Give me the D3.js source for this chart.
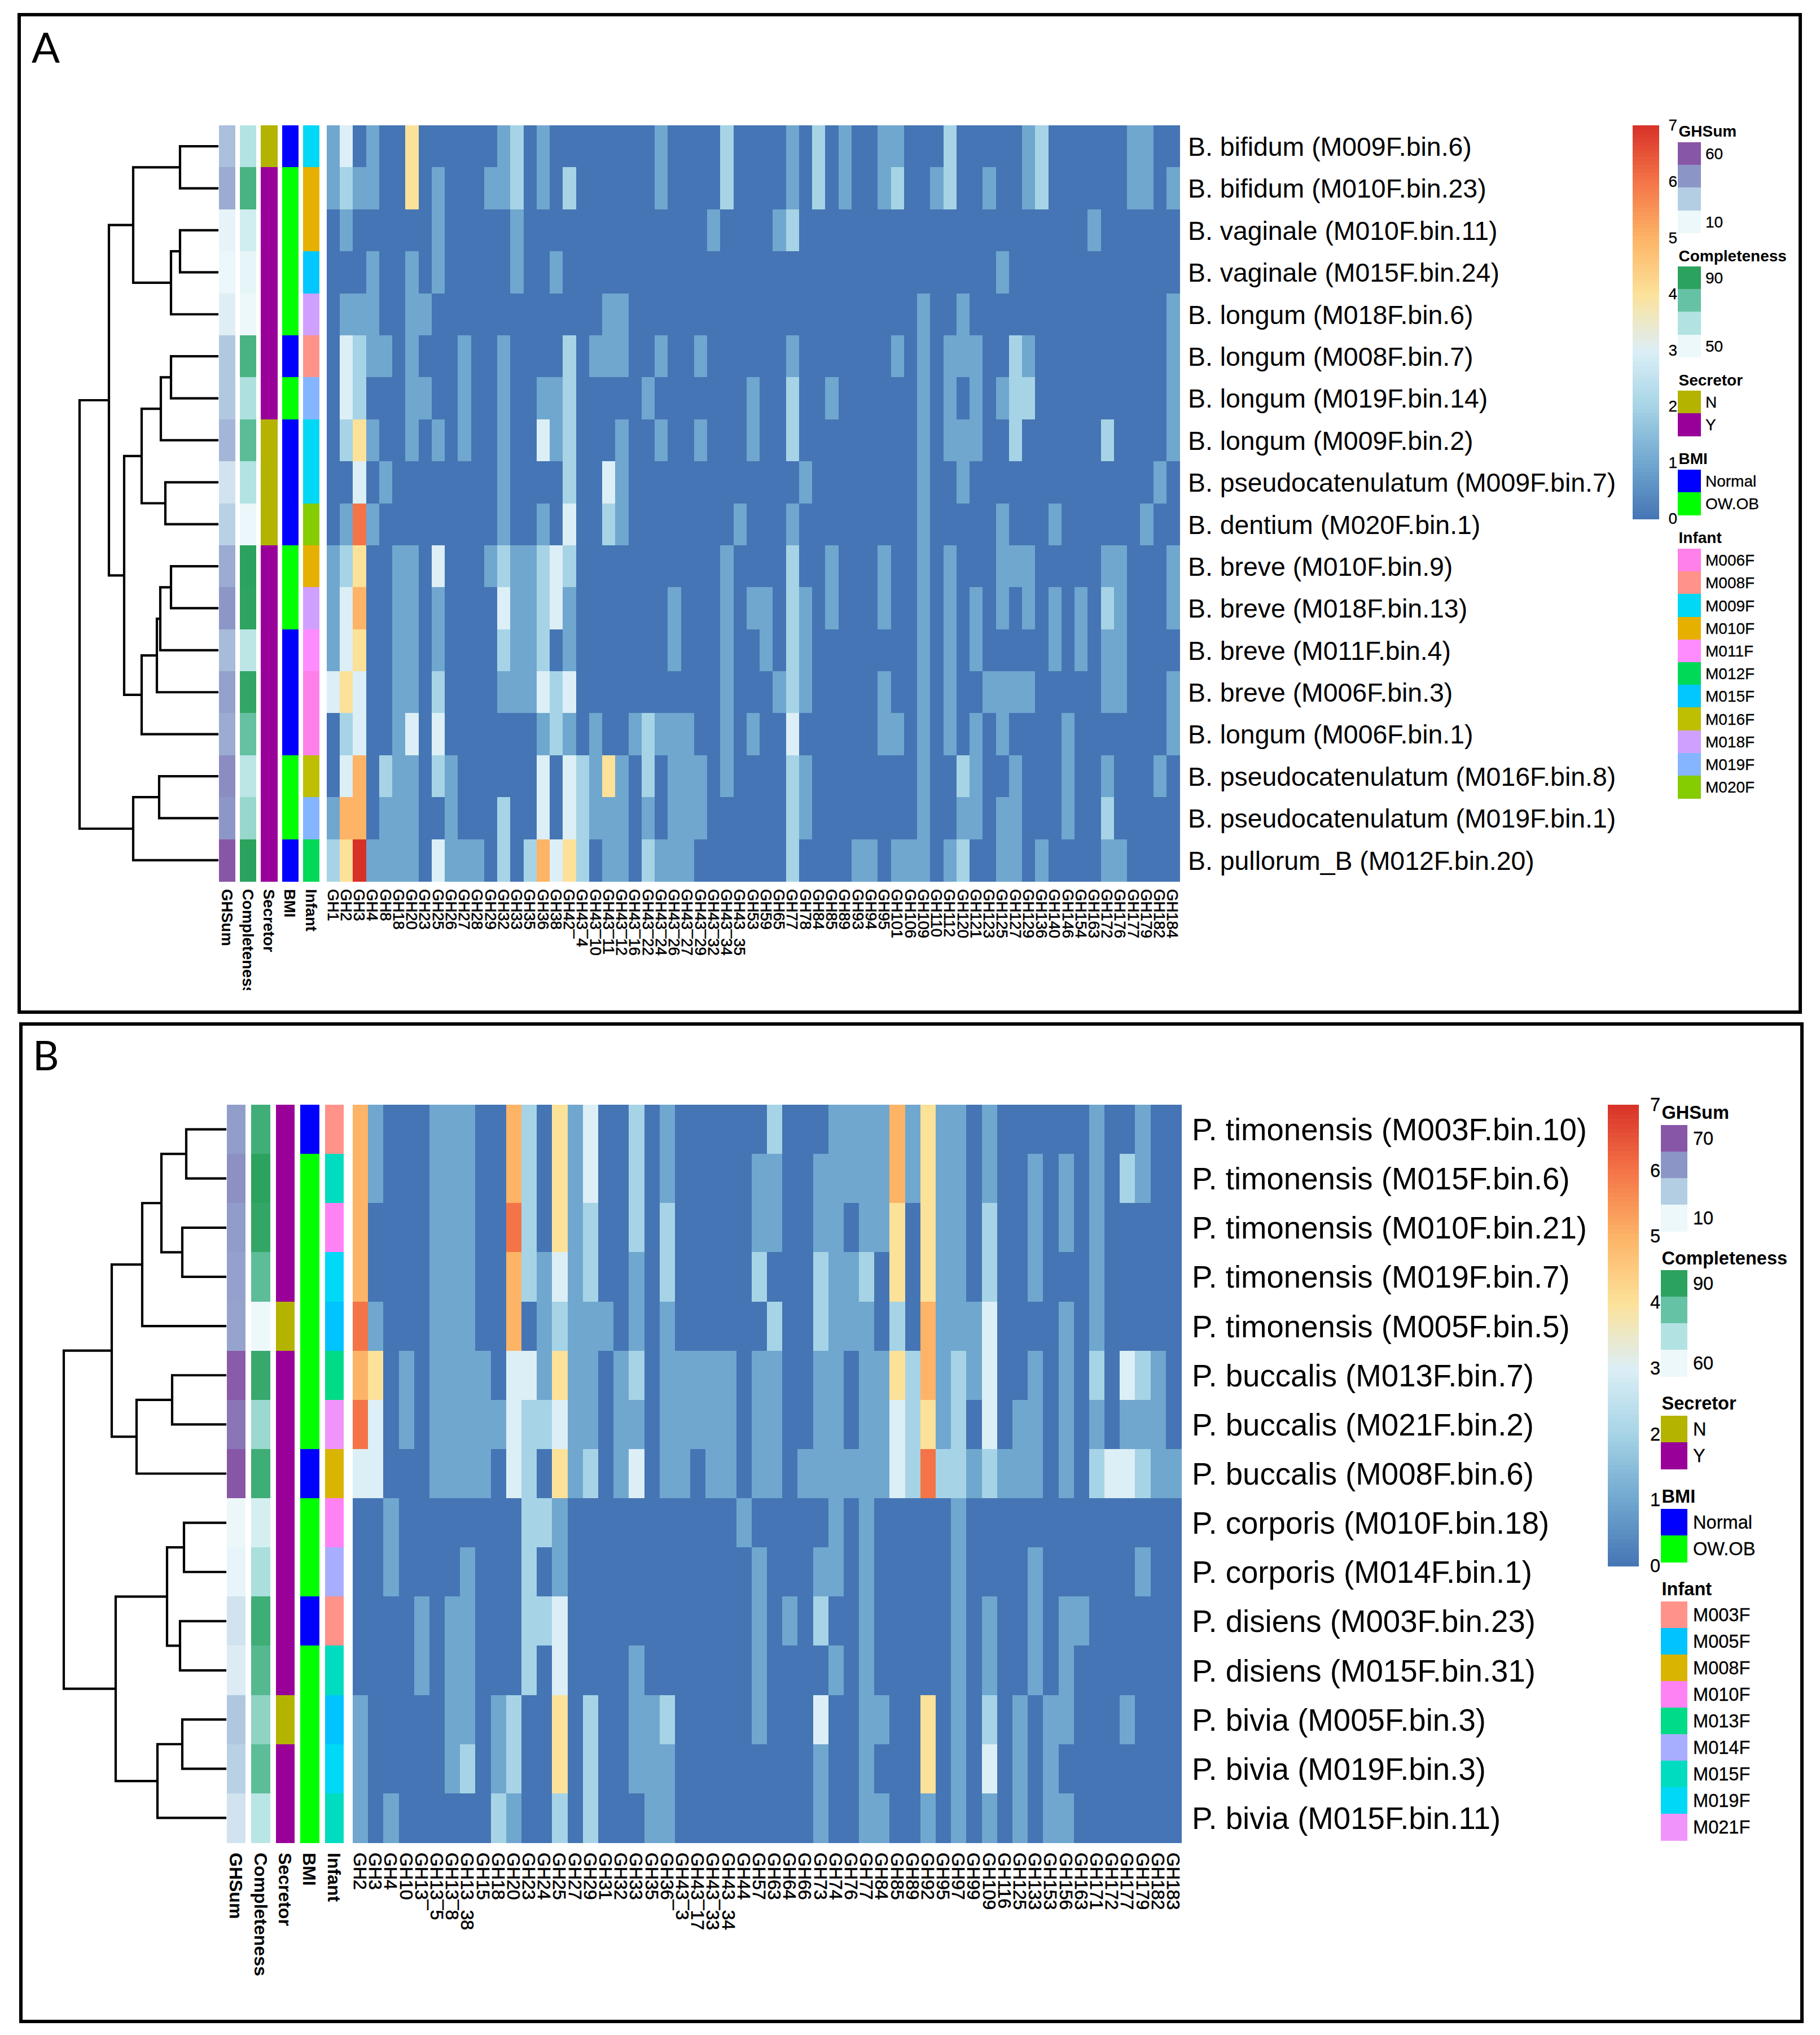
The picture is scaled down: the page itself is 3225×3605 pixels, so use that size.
<!DOCTYPE html>
<html>
<head>
<meta charset="utf-8">
<script src="https://cdn.jsdelivr.net/npm/d3@7"></script>
<style>
html,body{margin:0;padding:0;background:#fff}
svg{display:block}
text{font-family:"Liberation Sans",Arial,sans-serif;fill:#000}
</style>
</head>
<body>
<svg id="chart" width="3225" height="3605"></svg>
<script>
// ---------- Panel A data ----------
const rowsA = ["B. bifidum (M009F.bin.6)","B. bifidum (M010F.bin.23)","B. vaginale (M010F.bin.11)","B. vaginale (M015F.bin.24)","B. longum (M018F.bin.6)","B. longum (M008F.bin.7)","B. longum (M019F.bin.14)","B. longum (M009F.bin.2)","B. pseudocatenulatum (M009F.bin.7)","B. dentium (M020F.bin.1)","B. breve (M010F.bin.9)","B. breve (M018F.bin.13)","B. breve (M011F.bin.4)","B. breve (M006F.bin.3)","B. longum (M006F.bin.1)","B. pseudocatenulatum (M016F.bin.8)","B. pseudocatenulatum (M019F.bin.1)","B. pullorum_B (M012F.bin.20)"];
const colsA = ["GH1","GH2","GH3","GH4","GH8","GH18","GH20","GH23","GH25","GH26","GH27","GH28","GH29","GH32","GH33","GH35","GH36","GH38","GH42","GH43_4","GH43_10","GH43_11","GH43_12","GH43_16","GH43_22","GH43_24","GH43_26","GH43_27","GH43_29","GH43_32","GH43_34","GH43_35","GH53","GH59","GH65","GH77","GH78","GH84","GH85","GH89","GH93","GH94","GH95","GH101","GH106","GH109","GH110","GH112","GH120","GH121","GH123","GH125","GH127","GH129","GH136","GH140","GH146","GH154","GH163","GH172","GH176","GH177","GH179","GH182","GH184"];
// non-zero cells only: [column index, value]
const heatA = [
[[0,1],[1,3],[3,1],[6,4],[13,1],[14,2],[16,1],[25,1],[30,2],[35,1],[37,2],[39,1],[42,1],[43,1],[47,2],[53,1],[54,2],[61,1],[62,1]],
[[0,1],[1,2],[2,1],[3,1],[6,4],[8,1],[12,1],[13,1],[14,2],[16,1],[18,2],[25,1],[30,2],[35,1],[37,2],[39,1],[42,1],[43,2],[46,1],[47,2],[50,1],[53,1],[54,2],[61,1],[62,1],[64,1]],
[[1,1],[8,1],[14,1],[29,1],[34,1],[35,2],[58,1]],
[[3,1],[6,1],[8,1],[14,1],[17,1],[51,1]],
[[1,1],[2,1],[3,1],[6,1],[7,1],[21,1],[22,1],[45,1],[48,1],[64,1]],
[[1,3],[2,2],[3,1],[4,1],[6,1],[10,1],[13,1],[18,2],[20,1],[21,1],[22,1],[25,1],[28,1],[35,1],[43,1],[45,1],[47,1],[48,1],[49,1],[52,2],[53,1],[64,1]],
[[1,3],[2,2],[6,1],[7,1],[10,1],[13,1],[16,1],[17,1],[18,2],[24,1],[32,1],[35,2],[38,1],[45,1],[47,1],[49,1],[51,1],[52,2],[53,2],[64,1]],
[[1,2],[2,4],[3,1],[6,1],[8,1],[10,1],[13,1],[16,3],[17,1],[18,2],[22,1],[25,1],[28,1],[32,1],[35,2],[45,1],[47,1],[48,1],[49,1],[52,2],[59,2],[64,1]],
[[2,3],[4,1],[13,1],[18,2],[21,3],[22,1],[36,1],[45,1],[48,1],[63,1]],
[[1,1],[2,6],[3,1],[13,1],[16,1],[18,3],[21,2],[22,1],[31,1],[35,1],[45,1],[51,1],[55,1],[62,1]],
[[0,1],[1,2],[2,4],[5,1],[6,1],[8,3],[12,1],[13,2],[14,1],[15,1],[16,2],[17,3],[18,2],[30,1],[35,2],[38,1],[42,1],[45,1],[47,1],[51,1],[52,1],[53,1],[59,1],[60,1],[64,1]],
[[0,1],[1,3],[2,5],[5,1],[6,1],[8,1],[13,3],[14,1],[15,1],[16,2],[17,3],[18,1],[26,1],[30,1],[32,1],[33,1],[35,2],[36,1],[38,1],[42,1],[45,1],[47,1],[49,1],[51,1],[53,1],[55,1],[57,1],[59,2],[60,1],[64,1]],
[[0,1],[1,3],[2,4],[5,1],[6,1],[8,1],[13,2],[14,1],[15,1],[16,2],[18,1],[26,1],[30,1],[33,1],[35,2],[36,1],[45,1],[47,1],[49,1],[55,1],[57,1],[59,1],[60,1]],
[[0,3],[1,4],[2,3],[5,1],[6,1],[8,2],[13,1],[14,1],[15,1],[16,3],[17,2],[18,3],[30,1],[34,1],[35,2],[36,1],[42,1],[45,1],[47,1],[50,1],[51,1],[52,1],[53,1],[59,1],[60,1],[64,1]],
[[1,2],[2,3],[5,1],[6,3],[8,3],[16,1],[17,2],[18,1],[20,1],[23,1],[24,2],[25,1],[26,1],[27,1],[30,1],[32,1],[35,3],[42,1],[43,1],[45,1],[47,1],[49,1],[51,1],[56,1],[64,1]],
[[1,3],[2,5],[4,2],[5,1],[6,1],[8,2],[9,1],[16,3],[18,3],[19,2],[20,1],[21,4],[22,1],[24,2],[26,1],[27,1],[28,1],[30,1],[35,2],[36,1],[45,1],[48,2],[49,1],[52,1],[56,1],[59,1],[63,1]],
[[0,1],[1,5],[2,5],[4,1],[5,1],[6,1],[9,1],[13,2],[16,3],[18,3],[19,2],[20,1],[21,1],[22,1],[24,1],[26,1],[27,1],[28,1],[35,2],[36,1],[45,1],[48,1],[49,1],[51,1],[52,1],[56,1],[59,2]],
[[0,2],[1,4],[2,7],[3,1],[4,1],[5,1],[6,1],[8,3],[9,1],[10,1],[11,1],[13,2],[15,2],[16,5],[17,3],[18,4],[19,2],[21,1],[22,1],[24,2],[25,1],[26,1],[27,1],[35,2],[40,1],[41,1],[43,1],[44,1],[45,1],[47,1],[48,2],[51,1],[52,1],[54,1],[59,1],[60,1]]
];
const ghSumA = [30.5,37,12,10.5,14,28,28,33.5,18,25,37,43,32,40,37,46,43,60];
const completenessA = [63,83,56.5,51.6,50,83,64,79,63,50.5,90,89.5,61,88.4,77,61,68,90];
const secretorA = ["N","Y","Y","Y","Y","Y","Y","N","N","N","Y","Y","Y","Y","Y","Y","Y","Y"];
const bmiA = ["Normal","OW.OB","OW.OB","OW.OB","OW.OB","Normal","OW.OB","Normal","Normal","Normal","OW.OB","OW.OB","Normal","Normal","Normal","OW.OB","OW.OB","Normal"];
const infantA = ["M009F","M010F","M010F","M015F","M018F","M008F","M019F","M009F","M009F","M020F","M010F","M018F","M011F","M006F","M006F","M016F","M019F","M012F"];
// hclust-style merges: negative = leaf (row), positive = earlier merge; third entry = height
const mergeA = [[-1,-2,66],[-3,-4,66],[2,-5,82],[1,3,149],[-6,-7,82],[5,-8,100],[-9,-10,92],[6,7,134],[-11,-12,82],[9,-13,101],[10,-14,107],[11,-15,134],[8,12,165],[4,13,192],[-16,-17,103],[15,-18,149],[14,16,244]];
const infantLevelsA = ["M006F","M008F","M009F","M010F","M011F","M012F","M015F","M016F","M018F","M019F","M020F"];

// ---------- Panel B data ----------
const rowsB = ["P. timonensis (M003F.bin.10)","P. timonensis (M015F.bin.6)","P. timonensis (M010F.bin.21)","P. timonensis (M019F.bin.7)","P. timonensis (M005F.bin.5)","P. buccalis (M013F.bin.7)","P. buccalis (M021F.bin.2)","P. buccalis (M008F.bin.6)","P. corporis (M010F.bin.18)","P. corporis (M014F.bin.1)","P. disiens (M003F.bin.23)","P. disiens (M015F.bin.31)","P. bivia (M005F.bin.3)","P. bivia (M019F.bin.3)","P. bivia (M015F.bin.11)"];
const colsB = ["GH2","GH3","GH4","GH10","GH13","GH13_5","GH13_8","GH13_38","GH15","GH18","GH20","GH23","GH24","GH25","GH27","GH29","GH31","GH32","GH33","GH35","GH36","GH43_3","GH43_17","GH43_33","GH43_34","GH44","GH57","GH63","GH64","GH66","GH73","GH74","GH76","GH77","GH84","GH85","GH89","GH92","GH95","GH97","GH99","GH109","GH116","GH125","GH133","GH153","GH156","GH163","GH171","GH172","GH177","GH179","GH182","GH183"];
const heatB = [
[[0,5],[1,1],[5,1],[6,1],[7,1],[10,5],[11,2],[13,4],[14,1],[15,3],[18,2],[20,1],[27,2],[31,1],[32,1],[33,1],[34,1],[35,5],[36,1],[37,4],[38,1],[39,1],[41,1],[48,1],[51,1]],
[[0,5],[1,1],[5,1],[6,1],[7,1],[10,5],[11,2],[13,4],[14,1],[15,3],[18,2],[20,1],[26,1],[27,1],[30,1],[31,1],[32,1],[33,1],[34,1],[35,5],[36,1],[37,4],[38,1],[39,1],[41,1],[44,1],[46,1],[48,1],[50,2],[51,1]],
[[0,5],[5,1],[6,1],[7,1],[10,6],[11,2],[13,4],[14,1],[15,2],[18,2],[20,2],[26,1],[27,1],[30,1],[31,1],[33,1],[34,1],[35,4],[37,4],[38,1],[39,1],[41,2],[44,1],[46,1],[48,1]],
[[0,5],[5,1],[6,1],[7,1],[10,5],[11,2],[12,1],[13,3],[14,1],[15,2],[18,1],[20,2],[26,2],[30,2],[31,1],[32,1],[33,2],[35,4],[37,4],[38,1],[39,1],[41,2],[44,1],[48,1]],
[[0,6],[1,1],[5,1],[6,1],[7,1],[10,5],[12,1],[13,2],[14,1],[15,1],[16,1],[18,1],[20,1],[27,2],[30,2],[31,1],[32,1],[33,1],[35,2],[37,5],[38,1],[39,1],[40,1],[41,3],[46,1],[48,1]],
[[0,5],[1,4],[3,1],[5,1],[6,1],[7,1],[8,1],[10,3],[11,3],[12,1],[13,4],[14,1],[15,1],[17,1],[18,2],[20,1],[21,1],[22,1],[23,1],[24,1],[26,1],[27,1],[30,1],[31,1],[33,1],[34,1],[35,4],[36,2],[37,5],[38,1],[39,2],[40,1],[41,3],[44,1],[46,1],[48,2],[50,3],[51,2],[52,1]],
[[0,6],[1,3],[3,1],[5,1],[6,1],[7,1],[8,1],[9,1],[10,3],[11,2],[12,2],[13,3],[14,1],[15,1],[17,1],[18,1],[20,1],[21,1],[22,1],[23,1],[24,1],[26,1],[27,1],[30,1],[31,1],[33,1],[34,1],[35,3],[36,2],[37,4],[38,1],[39,2],[41,3],[43,1],[44,1],[46,1],[48,1],[50,1],[51,1],[52,1]],
[[0,3],[1,3],[5,1],[6,1],[7,1],[8,1],[10,3],[11,2],[13,4],[14,1],[15,2],[17,1],[18,3],[20,1],[21,1],[23,1],[24,1],[26,1],[27,1],[29,1],[30,1],[31,1],[32,1],[33,1],[34,1],[35,3],[36,2],[37,6],[38,2],[39,2],[40,1],[41,2],[42,1],[43,1],[44,1],[46,1],[48,2],[49,3],[50,3],[51,2],[52,1],[53,1]],
[[2,1],[11,2],[12,2],[13,1],[25,1],[31,1],[33,1],[39,1]],
[[2,1],[7,1],[11,2],[13,1],[26,1],[30,1],[31,1],[33,1],[39,1],[44,1],[51,1]],
[[4,1],[6,1],[7,1],[11,2],[12,2],[13,3],[26,1],[28,1],[30,2],[33,1],[39,1],[41,1],[44,1],[46,1],[47,1]],
[[4,1],[6,1],[7,1],[11,2],[13,3],[18,1],[26,1],[31,1],[33,1],[39,1],[41,1],[44,1],[46,1]],
[[0,1],[6,1],[7,1],[9,1],[10,2],[13,4],[15,2],[18,1],[19,1],[20,2],[26,1],[30,3],[33,1],[34,1],[37,4],[39,1],[41,2],[43,1],[45,1],[46,1],[50,1]],
[[0,1],[6,1],[7,2],[9,1],[10,2],[13,4],[15,2],[18,1],[19,1],[20,1],[30,1],[33,1],[37,4],[39,1],[41,3],[43,1],[45,1]],
[[0,1],[2,1],[9,2],[10,1],[13,2],[15,2],[19,1],[20,1],[30,1],[33,1],[34,1],[37,1],[39,1],[41,1],[43,1],[45,1],[46,1]]
];
const ghSumB = [47,52,48,46,45,68,60,70,10.5,12,20,15.5,32,28,20];
const completenessB = [86.4,90,88.8,81.6,60,88,73,86.7,64,71,86.7,83,74.6,81.6,68.7];
const secretorB = ["Y","Y","Y","Y","N","Y","Y","Y","Y","Y","Y","Y","N","Y","Y"];
const bmiB = ["Normal","OW.OB","OW.OB","OW.OB","OW.OB","OW.OB","OW.OB","Normal","OW.OB","OW.OB","Normal","OW.OB","OW.OB","OW.OB","OW.OB"];
const infantB = ["M003F","M015F","M010F","M019F","M005F","M013F","M021F","M008F","M010F","M014F","M003F","M015F","M005F","M019F","M015F"];
const mergeB = [[-1,-2,69],[-3,-4,76],[1,2,113],[3,-5,147],[-6,-7,94],[5,-8,157],[4,6,201],[-9,-10,73],[-11,-12,80],[8,9,103],[-13,-14,76],[11,-15,120],[10,12,194],[7,13,286]];
const infantLevelsB = ["M003F","M005F","M008F","M010F","M013F","M014F","M015F","M019F","M021F"];

// ---------- Shared palette ----------
const heatValues = [0,1,2,3,4,5,6,7];
const heatColors = ["#4575b4","#70a7cf","#a6d4e6","#dceff6","#fce199","#fdb466","#f47447","#d83228"];
const buPu = ["#edf8fb","#b3cde3","#8c96c6","#8856a7"];
const buGn = ["#edf8fb","#b2e2e2","#66c2a4","#2ca25f"];
const secretorLevels = ["N","Y"];
const secretorColors = ["#b3b300","#990099"];
const bmiLevels = ["Normal","OW.OB"];
const bmiColors = ["#0000ff","#00ff00"];
const infantColors = {M003F:"#ff9289",M005F:"#00c3ff",M006F:"#ff80e8",M008F:null,M009F:"#00d8f5",M010F:"#e6b000",M011F:"#ff8cff",M012F:"#00d958",M013F:"#00db88",M014F:"#a8aeff",M015F:"#00c8ff",M016F:"#bdbf00",M018F:"#d0a0ff",M019F:"#85b5ff",M020F:"#85cc00",M021F:"#f094fb"};
const infantOverridesA = {M008F:"#ff9289"};
const infantOverridesB = {M008F:"#d9b400",M010F:"#ff82f5",M015F:"#00dcc0",M019F:"#00d8f7"};

const heatColor = d3.scaleLinear().domain(heatValues).range(heatColors);
const svg = d3.select("#chart");
svg.append("rect").attr("width",3225).attr("height",3605).attr("fill","#fff");

function ramp(lo, hi, colors){
  return d3.scaleLinear().domain(colors.map((c,i)=>lo+(hi-lo)*i/(colors.length-1))).range(colors);
}

function drawPanel(p){
  const g = svg.append("g");
  // frame
  g.append("rect").attr("x",p.box[0]).attr("y",p.box[1]).attr("width",p.box[2]-p.box[0]).attr("height",p.box[3]-p.box[1])
    .attr("fill","none").attr("stroke","#000").attr("stroke-width",6);
  g.append("text").text(p.letter).attr("x",p.letterPos[0]).attr("y",p.letterPos[1])
    .style("font-family","Lato,sans-serif").style("font-size",p.letterSize+"px");

  const x = d3.scaleBand().domain(p.cols).range([p.heat[0],p.heat[1]]);
  const y = d3.scaleBand().domain(p.rows).range([p.heat[2],p.heat[3]]);

  // heat cells
  const matrix = p.heatData.map((pairs,r)=>{
    const m = new Map(pairs);
    return p.cols.map((c,i)=>({row:p.rows[r],col:c,value:m.get(i)||0}));
  }).flat();
  g.append("g").attr("shape-rendering","crispEdges").selectAll("rect").data(matrix).join("rect")
    .attr("x",d=>x(d.col)).attr("y",d=>y(d.row)).attr("width",x.bandwidth()+.5).attr("height",y.bandwidth()+.5)
    .attr("fill",d=>heatColor(d.value));

  // annotation tracks
  const tracks = [
    {name:"GHSum",values:p.ghSum,color:ramp(p.ghRange[0],p.ghRange[1],buPu)},
    {name:"Completeness",values:p.completeness,color:ramp(p.compRange[0],p.compRange[1],buGn)},
    {name:"Secretor",values:p.secretor,color:d3.scaleOrdinal(secretorLevels,secretorColors)},
    {name:"BMI",values:p.bmi,color:d3.scaleOrdinal(bmiLevels,bmiColors)},
    {name:"Infant",values:p.infant,color:v=>p.infantColor(v)}
  ];
  const ax = d3.scaleBand().domain(tracks.map(t=>t.name)).range([p.ann[0],p.ann[1]]).paddingInner(p.annPad);
  tracks.forEach(t=>{
    g.append("g").attr("shape-rendering","crispEdges").selectAll("rect").data(t.values).join("rect")
      .attr("x",ax(t.name)).attr("width",ax.bandwidth())
      .attr("y",(d,i)=>y(p.rows[i])).attr("height",y.bandwidth()+.5)
      .attr("fill",d=>t.color(d));
  });

  // dendrogram
  const hx = d3.scaleLinear().domain([0,d3.max(p.merge,m=>m[2])]).range([p.leafX,p.rootX]);
  const nodes = [];
  const locate = id => id<0 ? {x:hx(0),y:y(p.rows[-id-1])+y.bandwidth()/2} : nodes[id-1];
  const dp = d3.path();
  p.merge.forEach(m=>{
    const a = locate(m[0]), b = locate(m[1]), nx = hx(m[2]);
    dp.moveTo(a.x,a.y); dp.lineTo(nx,a.y); dp.lineTo(nx,b.y); dp.lineTo(b.x,b.y);
    nodes.push({x:nx,y:(a.y+b.y)/2});
  });
  g.append("path").attr("d",dp.toString()).attr("fill","none").attr("stroke","#000")
    .attr("stroke-width",p.dendroW).attr("stroke-linecap","square").attr("stroke-linejoin","miter");

  // column axis
  const colAxis = g.append("g").attr("transform",`translate(0,${p.tickY})`)
    .call(d3.axisBottom(x).tickSize(0).tickPadding(0));
  colAxis.select(".domain").remove();
  colAxis.selectAll("text").attr("x",0).attr("y",0).attr("dy",".36em")
    .attr("text-anchor","start").attr("transform","rotate(90)")
    .style("font-family",'"Liberation Sans",Arial,sans-serif').style("font-size",p.tickSize+"px")
    .attr("stroke","#000").attr("stroke-width",.6);

  // annotation names
  const clipId = "clip"+p.letter;
  svg.append("clipPath").attr("id",clipId).append("rect")
    .attr("x",p.ann[0]-5).attr("y",p.tickY-5).attr("width",p.ann[1]-p.ann[0]+10).attr("height",p.annClip-p.tickY+5);
  const annAxis = g.append("g").attr("clip-path",`url(#${clipId})`).append("g").attr("transform",`translate(0,${p.tickY})`)
    .call(d3.axisBottom(ax).tickSize(0).tickPadding(0));
  annAxis.select(".domain").remove();
  annAxis.selectAll("text").attr("x",0).attr("y",0).attr("dy",".36em")
    .attr("text-anchor","start").attr("transform","rotate(90)")
    .style("font-family",'"Liberation Sans",Arial,sans-serif').style("font-weight","bold").style("font-size",p.tickSize+"px");

  // row axis
  const rowAxis = g.append("g").attr("transform",`translate(${p.labelX},2)`)
    .call(d3.axisRight(y).tickSize(0).tickPadding(0));
  rowAxis.select(".domain").remove();
  rowAxis.selectAll("text").attr("x",0)
    .style("font-family",'"Liberation Sans",Arial,sans-serif').style("font-size",p.labelSize+"px");

  // colour bar
  const cb = p.bar;
  const cy = d3.scaleLinear().domain([0,7]).range([cb.y1,cb.y0]);
  const steps = d3.range(100);
  g.append("g").attr("shape-rendering","crispEdges").selectAll("rect").data(steps).join("rect")
    .attr("x",cb.x0).attr("width",cb.x1-cb.x0)
    .attr("y",i=>cy((i+1)*7/100)).attr("height",i=>cy(i*7/100)-cy((i+1)*7/100)+.7)
    .attr("fill",i=>heatColor((i+.5)*7/100));
  const barAxis = g.append("g").attr("transform",`translate(${cb.labelX},0)`)
    .call(d3.axisRight(cy).tickValues(heatValues).tickSize(0).tickPadding(0).tickFormat(d3.format("d")));
  barAxis.select(".domain").remove();
  barAxis.selectAll("text").attr("x",0).attr("text-anchor","end")
    .style("font-family",'"Liberation Sans",Arial,sans-serif').style("font-size",p.legendSize+"px")
    .attr("stroke","#000").attr("stroke-width",.3);

  // discrete legends
  p.legends.forEach(l=>{
    g.append("text").text(l.title).attr("x",p.legX+1.5).attr("y",l.titleY).attr("dy",".36em")
      .style("font-weight","bold").style("font-size",p.legendSize+"px");
    const n = l.colors.length;
    const ly = d3.scaleBand().domain(d3.range(n)).range([l.y,l.y+n*p.swatch]);
    g.append("g").attr("shape-rendering","crispEdges").selectAll("rect").data(l.colors).join("rect")
      .attr("x",p.legX).attr("width",p.swatchW).attr("y",(d,i)=>ly(i)).attr("height",p.swatch+.5).attr("fill",d=>d);
    g.append("g").selectAll("text").data(l.labels).join("text").text(d=>d)
      .attr("x",p.legX+p.legLabelOff).attr("y",(d,i)=>ly(i)+p.swatch/2).attr("dy",".36em")
      .style("font-size",p.legendSize+"px")
      .attr("stroke","#000").attr("stroke-width",.3);
  });
}

const rev = a => a.slice().reverse();

drawPanel({
  letter:"A",letterPos:[56,111],letterSize:74,box:[34,26,3190,1793],
  rows:rowsA,cols:colsA,heatData:heatA,ghSum:ghSumA,completeness:completenessA,secretor:secretorA,bmi:bmiA,infant:infantA,
  ghRange:[10,60],compRange:[50,90],
  infantColor:v=>infantOverridesA[v]||infantColors[v],
  heat:[579,2090,222,1561],ann:[388,566],annPad:.22,merge:mergeA,leafX:385,rootX:141,dendroW:4.2,
  tickY:1575,tickSize:27.5,annClip:1754,labelX:2105,labelSize:46.4,
  bar:{x0:2893,x1:2940,y0:222,y1:919,labelX:2972},
  legendSize:28,legX:2973,swatch:40.2,swatchW:41,legLabelOff:49,
  legends:[
    {title:"GHSum",titleY:232,y:252,colors:rev(buPu),labels:["60","","","10"]},
    {title:"Completeness",titleY:453,y:472,colors:rev(buGn),labels:["90","","","50"]},
    {title:"Secretor",titleY:673,y:692,colors:secretorColors,labels:secretorLevels},
    {title:"BMI",titleY:812,y:832,colors:bmiColors,labels:bmiLevels},
    {title:"Infant",titleY:952,y:972,colors:infantLevelsA.map(v=>infantOverridesA[v]||infantColors[v]),labels:infantLevelsA}
  ]
});

drawPanel({
  letter:"B",letterPos:[58,1896],letterSize:72,box:[37,1814,3193,3581],
  rows:rowsB,cols:colsB,heatData:heatB,ghSum:ghSumB,completeness:completenessB,secretor:secretorB,bmi:bmiB,infant:infantB,
  ghRange:[10,70],compRange:[60,90],
  infantColor:v=>infantOverridesB[v]||infantColors[v],
  heat:[625,2093,1957,3264],ann:[402,609],annPad:.23,merge:mergeB,leafX:399,rootX:113,dendroW:4.2,
  tickY:3282,tickSize:32,annClip:3540,labelX:2112,labelSize:54.6,
  bar:{x0:2849,x1:2904,y0:1957,y1:2774,labelX:2942},
  legendSize:32.6,legX:2943,swatch:47,swatchW:47,legLabelOff:57,
  legends:[
    {title:"GHSum",titleY:1970,y:1993,colors:rev(buPu),labels:["70","","","10"]},
    {title:"Completeness",titleY:2228,y:2250,colors:rev(buGn),labels:["90","","","60"]},
    {title:"Secretor",titleY:2485,y:2508,colors:secretorColors,labels:secretorLevels},
    {title:"BMI",titleY:2650,y:2673,colors:bmiColors,labels:bmiLevels},
    {title:"Infant",titleY:2814,y:2837,colors:infantLevelsB.map(v=>infantOverridesB[v]||infantColors[v]),labels:infantLevelsB}
  ]
});
</script>
</body>
</html>
